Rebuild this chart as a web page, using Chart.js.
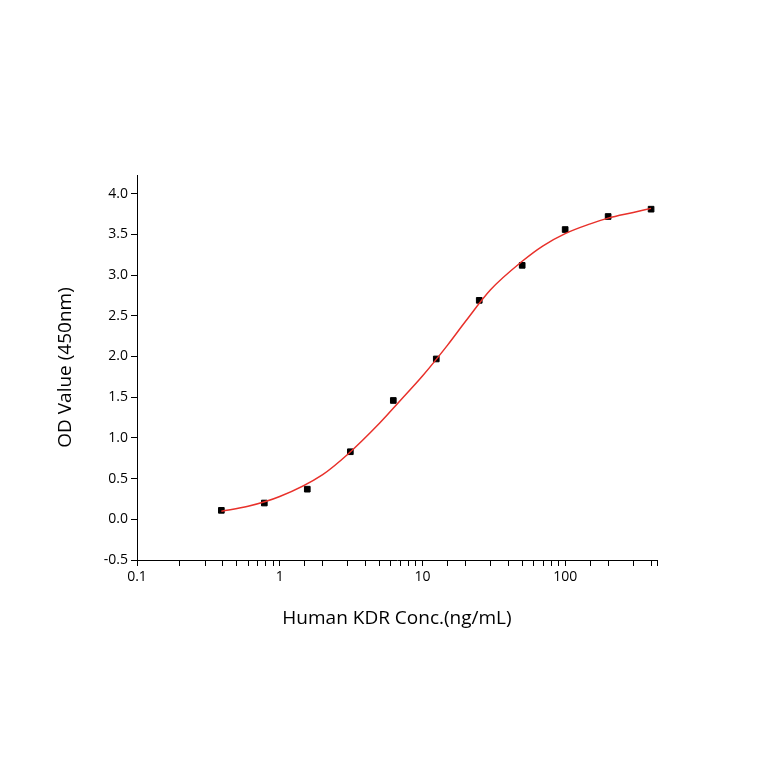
<!DOCTYPE html>
<html><head><meta charset="utf-8">
<script src="https://cdn.jsdelivr.net/npm/chart.js@4"></script>
<style>body{margin:0;background:#fff}#c{display:block}</style>
</head><body>
<canvas id="c" width="764" height="764"></canvas>
<script>
// measured points
var concs = [0.39, 0.78, 1.56, 3.125, 6.25, 12.5, 25, 50, 100, 200, 400];
var odVals = [0.11, 0.20, 0.37, 0.83, 1.46, 1.97, 2.69, 3.12, 3.56, 3.72, 3.81];
// fitted curve
var fitX = [0.39, 0.6, 1, 2, 3, 5, 7, 10, 15, 20, 30, 50, 70, 100, 150, 200, 300, 400];
var fitY = [0.10, 0.16, 0.28, 0.55, 0.80, 1.18, 1.46, 1.76, 2.14, 2.43, 2.82, 3.17, 3.36, 3.51, 3.63, 3.70, 3.77, 3.82];
var yTicks = [-0.5, 0, 0.5, 1, 1.5, 2, 2.5, 3, 3.5, 4];

var font = {family: 'Open Sans', size: 14};
new Chart(document.getElementById('c'), {
    type: 'scatter',
    data: {
        datasets: [
            {
                type: 'line',
                data: fitX.map(function (x, i) { return {x: x, y: fitY[i]}; }),
                borderColor: '#e8302a',
                borderWidth: 1.5,
                pointRadius: 0,
                cubicInterpolationMode: 'monotone'
            },
            {
                data: concs.map(function (x, i) { return {x: x, y: odVals[i]}; }),
                pointStyle: 'rect',
                pointRadius: 4,
                backgroundColor: '#000',
                borderColor: '#000'
            }
        ]
    },
    options: {
        responsive: false,
        animation: false,
        layout: {padding: {top: 175, right: 107, left: 50, bottom: 130}},
        plugins: {legend: {display: false}, tooltip: {enabled: false}},
        scales: {
            x: {
                type: 'logarithmic', min: 0.1, max: 440,
                grid: {drawOnChartArea: false, tickLength: 6, color: '#000'},
                border: {color: '#000', width: 1},
                ticks: {
                    color: '#000', font: font, autoSkip: false, maxRotation: 0,
                    callback: function (v) {
                        var l = Math.log10(v);
                        return Math.abs(l - Math.round(l)) < 1e-9 ? String(v) : '';
                    }
                },
                title: {display: true, text: 'Human KDR Conc.(ng/mL)', color: '#000', font: {family: 'Open Sans', size: 19}, padding: {top: 18}},
                afterFit: function (s) { s.height = 74; }
            },
            y: {
                min: -0.5, max: 4.23,
                afterBuildTicks: function (s) { s.ticks = yTicks.map(function (v) { return {value: v}; }); },
                grid: {drawOnChartArea: false, tickLength: 6, color: '#000'},
                border: {color: '#000', width: 1},
                ticks: {color: '#000', font: font, callback: function (v) { return v.toFixed(1); }},
                title: {display: true, text: 'OD Value (450nm)', color: '#000', font: {family: 'Open Sans', size: 19}, padding: {bottom: 6}},
                afterFit: function (s) { s.width = 87; }
            }
        }
    }
});
</script>
</body></html>
